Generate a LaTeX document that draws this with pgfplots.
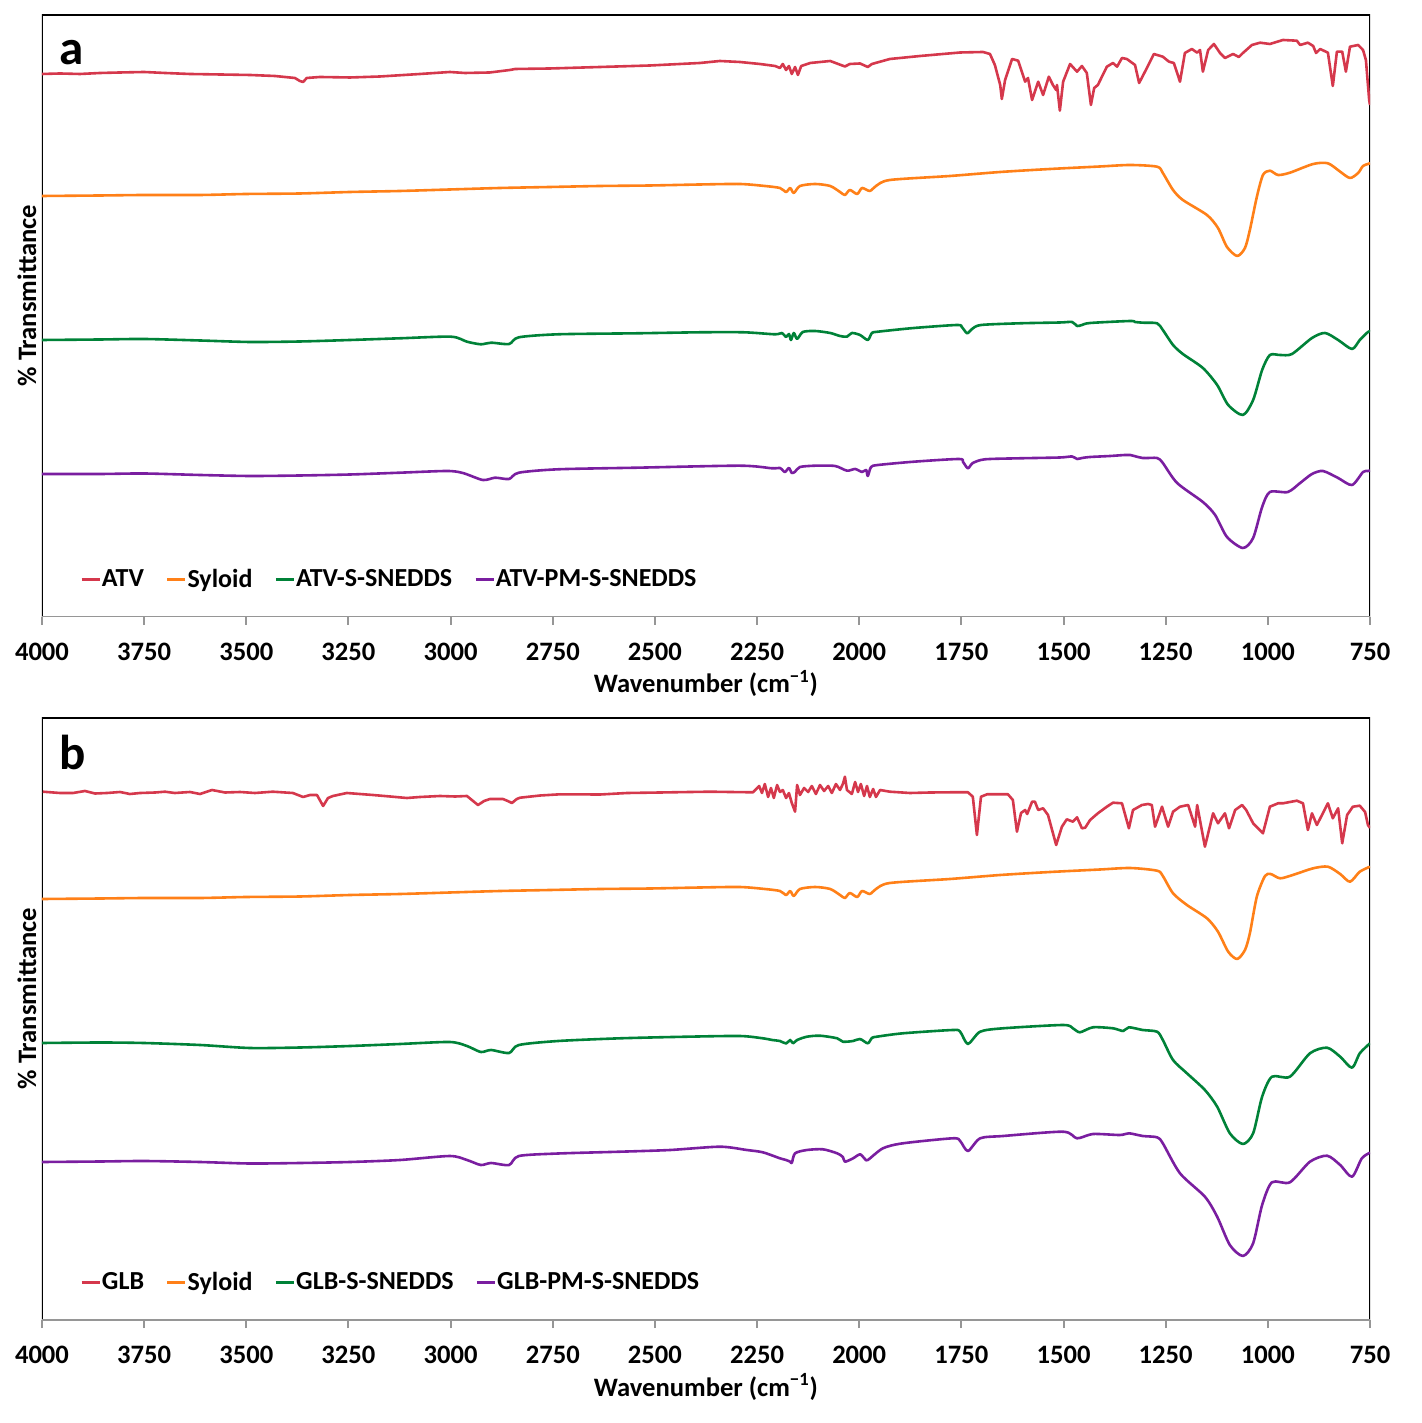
\documentclass[border=0pt]{standalone}
\usepackage{fontspec}
\setmainfont{Carlito}
\usepackage{pgfplots}
\pgfplotsset{compat=1.18}
\definecolor{cred}{RGB}{213,56,76}
\definecolor{corange}{RGB}{255,128,24}
\definecolor{cgreen}{RGB}{0,130,56}
\definecolor{cpurple}{RGB}{122,30,160}
\definecolor{axgray}{RGB}{150,150,150}
\pgfplotsset{
  ftir/.style={
    scale only axis, width=664pt, height=301pt, anchor=south west,
    x dir=reverse, xmin=750, xmax=4000, y dir=reverse,
    xtick={4000,3750,3500,3250,3000,2750,2500,2250,2000,1750,1500,1250,1000,750},
    ytick=\empty, tick pos=lower, tick align=outside,
    major tick length=4pt,
    every tick/.style={axgray, line width=1pt},
    axis line style={draw=none},
    /pgf/number format/assume math mode=true,
    /pgf/number format/1000 sep={},
    xticklabel style={font=\bfseries\fontsize{13.3}{15}\selectfont, yshift=-5.5pt},
    xlabel={Wavenumber (cm\textsuperscript{−1})},
    ylabel={\% Transmittance},
    label style={font=\bfseries\fontsize{13.3}{15}\selectfont},
    xlabel style={at={(axis description cs:0.5,0)}, anchor=base, yshift=-38pt},
    ylabel style={at={(axis description cs:-0.0113,0.534)}, anchor=center, rotate=0},
    legend columns=4,
    legend cell align=left,
    legend style={at={(axis description cs:0.0286,0.062)}, anchor=west, draw=none, fill=none, inner sep=0pt,
      font=\bfseries\fontsize{13}{14}\selectfont,
      nodes={inner xsep=0.5pt, inner ysep=1pt},
      /tikz/every even column/.append style={column sep=10.5pt}},
    legend image code/.code={\draw[#1] (0pt,0pt) -- (9pt,0pt);},
    every axis plot/.append style={line width=1.3pt, line join=round},
    clip=true,
  }
}
\begin{document}
\begin{tikzpicture}
\useasboundingbox (0,0) rectangle (710.5pt,711.5pt);
% ---------------- panel a ----------------
\begin{axis}[ftir, at={(21pt,403pt)}, ymin=15, ymax=617]
\draw[black, line width=1pt] (rel axis cs:0,0) -- (rel axis cs:0,1) -- (rel axis cs:1,1) -- (rel axis cs:1,0);
\draw[axgray, line width=1pt] (rel axis cs:0,0) -- (rel axis cs:1,0);
\addplot[cred] table {
4000 74
3956 73.5
3907 74
3858 73
3809 72.5
3750 72
3699 73
3638 74
3564 74.5
3491 75
3430 76
3381 78
3369 81
3361 82
3352 78
3320 77
3246 77.5
3173 76.5
3075 74
3002 72
2965 73
2904 72.5
2855 70
2842 69
2757 68.5
2634 67
2512 65.5
2390 63
2341 61
2292 62
2243 64
2206 66
2194 68
2187 64
2179 70
2172 66
2165 74
2157 67
2150 75
2142 66
2120 63
2071 61
2035 66.5
2023 64
1998 63.5
1979 67
1969 64
1925 59
1851 56
1753 52.5
1697 52
1680 54
1668 65
1655 85
1651 99
1643 80
1626 59
1611 60.7
1594 81.7
1587 78
1577 100
1562 81.7
1550 95
1536 76.7
1526 85
1518 90
1516 85
1509 110.7
1501 81.7
1484 64
1467 71.7
1455 66
1443 73
1433 105
1425 88
1416 85
1394 66.7
1379 63
1369 66.7
1357 58
1345 59
1325 65
1315 83
1296 68
1279 54
1257 56.7
1242 61.7
1230 63
1215 81.7
1203 53
1186 49
1173 52.7
1166 50
1159 71.7
1146 50
1132 44
1117 53
1105 58
1085 54
1071 57
1061 53
1039 45
1019 42.7
995 44
963 40
929 40.7
921 45
902 42.7
889 46
882 53
872 49
853 52.7
841 86
831 51.7
818 51.7
809 71.7
799 46.7
779 45
767 50
760 60
752 100
750 105
};
\addlegendentry{ATV}
\addplot[corange, smooth, tension=0.45] table {
4000 196
3858 195.5
3750 195
3613 195
3501 194
3369 193.5
3246 192
3124 191
3002 189.5
2879 188
2757 187
2634 186
2512 185.5
2390 184.5
2292 184
2231 186
2194 188
2179 192
2169 188
2160 193
2145 186
2108 184
2071 186
2047 192
2035 195
2023 190
2005 194
1993 188
1974 191
1959 186
1925 180
1778 176
1655 172
1533 169
1411 166.5
1337 165
1271 166.7
1257 173
1232 190
1208 200
1149 215
1122 228
1100 247
1075 256
1056 248
1044 230
1027 197
1012 175
995 170.7
975 175
946 172.7
889 164
853 163.3
823 171.7
799 178
779 173
767 166
750 163.3
};
\addlegendentry{Syloid}
\addplot[cgreen, smooth, tension=0.45] table {
4000 340
3858 339.5
3750 339
3613 340.5
3491 342
3369 341.5
3246 340
3124 338.3
2999 336.7
2960 341.7
2926 344.3
2901 342.7
2857 344
2833 337.3
2737 334.3
2544 333.3
2390 332.3
2282 332.3
2206 334.3
2189 333
2179 337
2172 334
2167 340
2160 333
2152 339
2138 332
2108 331
2071 333
2047 336
2030 336.7
2018 333
1998 335
1979 340
1969 333
1954 331.7
1866 328
1761 325
1749 327
1736 333.3
1724 329
1702 325
1607 323.3
1509 322.5
1479 322
1467 326
1455 325
1435 323
1337 321
1325 322
1306 322.7
1271 323.3
1257 330
1232 345
1208 354
1159 368
1124 385
1097 405
1061 415
1036 400
1014 370
995 355
970 355
941 354
892 338
860 333
828 340
794 349
775 340
755 332
750 331.5
};
\addlegendentry{ATV-S-SNEDDS}
\addplot[cpurple, smooth, tension=0.45] table {
4000 474
3858 474
3750 473.5
3613 475
3491 476
3369 475.5
3246 474.5
3124 472.7
3009 471
2970 473
2921 480
2891 477.7
2857 479
2833 472.7
2737 469.3
2544 467.7
2292 465.7
2213 468.3
2194 468
2182 472
2172 468
2165 473
2157 471.7
2145 467
2108 465.7
2059 466
2030 470.7
2010 469
1993 472
1983 470
1979 476
1971 467
1954 465
1866 461.7
1756 459
1746 462
1734 468.3
1722 463
1692 459.3
1607 458.3
1509 457.5
1479 456.5
1467 459
1455 458
1435 457
1386 456
1350 455
1337 455
1306 458
1271 458
1257 463
1222 483
1159 502
1129 515
1100 537
1061 548
1036 538
1014 507
995 492
951 492
921 483
892 474
865 471
828 478
794 485
767 472
755 471
750 470.5
};
\addlegendentry{ATV-PM-S-SNEDDS}
\end{axis}
% ---------------- panel b ----------------
\begin{axis}[ftir, at={(21pt,51.5pt)}, ymin=718, ymax=1320]
\draw[black, line width=1pt] (rel axis cs:0,0) -- (rel axis cs:0,1) -- (rel axis cs:1,1) -- (rel axis cs:1,0);
\draw[axgray, line width=1pt] (rel axis cs:0,0) -- (rel axis cs:1,0);
\addplot[cred] table {
3998 791.7
3956 793
3924 793
3895 791
3870 793.5
3841 793
3809 792
3785 794
3760 793
3723 792.5
3699 791.7
3675 793
3638 792
3613 794
3584 790
3552 792.5
3515 792
3479 793
3435 791.7
3386 793
3361 797
3344 795
3327 795
3312 806
3300 798
3288 796
3254 793
3222 794
3190 795
3148 796.5
3107 798
3075 797
3026 796
2989 796.5
2960 796
2945 801
2933 805
2918 801
2904 799
2872 799
2860 801
2850 803
2838 799
2830 797.7
2781 795.5
2732 794.3
2634 794.5
2568 793
2488 792.5
2414 792
2365 791.7
2316 792
2260 792.3
2245 786
2238 793
2231 784
2223 797
2216 788
2209 798
2201 785
2194 792
2187 790
2179 798
2172 793
2165 803
2157 811.7
2152 785
2145 795
2135 788
2125 792
2116 786
2106 794
2096 785
2086 791
2076 786
2067 793
2057 784
2047 790
2040 784
2035 776.7
2030 790
2018 794
2010 782
2003 792
1996 784
1988 796
1981 786
1974 797
1966 789
1959 797
1949 790
1925 791.7
1876 793
1827 792.5
1778 792.3
1734 792.3
1722 796.7
1712 835
1702 796.7
1687 794.3
1636 794.3
1624 800
1614 831.7
1604 813
1594 810
1589 814
1577 801.7
1570 801.7
1562 810
1550 808.3
1538 815
1518 845
1504 826.7
1492 819.3
1477 821.7
1467 817.3
1455 828.3
1447 827.7
1435 820
1416 813.3
1394 806.7
1379 802.7
1357 803.3
1340 828.3
1330 810
1308 805
1293 804
1284 805
1276 826.7
1259 806.7
1244 826.7
1232 811.7
1215 806.7
1195 805
1178 826.7
1173 805
1154 846.7
1134 813.3
1122 823.3
1105 813.3
1095 828.3
1080 810
1063 805
1053 810
1036 823.3
1012 833.3
995 806.7
975 803.3
963 803.3
929 800.7
914 803.3
902 830
892 813.3
880 825
853 803.3
841 818.3
828 808.3
818 843.3
806 815
792 806.7
775 805.7
762 812
755 825
750 828
};
\addlegendentry{GLB}
\addplot[corange, smooth, tension=0.45] table {
4000 899
3858 898.5
3750 898
3613 898
3501 897
3369 896.5
3246 895
3124 894
3002 892.5
2879 891
2757 890
2634 889
2512 888.5
2390 887.5
2292 887
2231 889
2194 891
2179 895
2169 891
2160 896
2145 889
2108 887
2071 889
2047 895
2035 898
2023 893
2005 897
1993 891
1974 894
1959 889
1925 883
1778 879
1655 875
1533 872
1411 869.5
1337 868
1271 870.7
1257 876
1232 893.3
1198 905
1149 918.3
1122 931.7
1097 951.7
1075 959
1056 950
1044 933.3
1027 896.7
1007 876
993 874
970 878.3
939 875
889 868.3
853 866.7
823 874
799 881.7
775 871.7
750 866.7
};
\addlegendentry{Syloid}
\addplot[cgreen, smooth, tension=0.45] table {
4000 1043
3858 1042.5
3750 1043
3613 1045
3491 1048
3369 1047.5
3246 1046
3124 1044
3002 1042
2960 1046
2926 1052
2901 1050
2857 1053
2833 1045
2737 1041
2585 1038.3
2421 1036.7
2292 1036
2236 1038.3
2213 1040
2194 1041
2179 1043.5
2169 1040
2162 1043.3
2152 1040
2128 1036.7
2096 1035.7
2054 1038.3
2040 1041.7
2015 1041
1998 1039
1979 1043.3
1969 1038
1957 1036.7
1893 1033.3
1771 1030
1753 1031.7
1734 1044
1704 1031.7
1648 1028.3
1501 1025
1477 1028.3
1460 1032.3
1428 1027.3
1379 1028.3
1354 1031
1340 1027.3
1306 1030
1271 1031.7
1257 1040
1232 1060
1198 1073.3
1154 1090
1124 1106.7
1093 1133.3
1061 1144
1036 1133.3
1014 1096.7
990 1076.7
946 1076.7
897 1053.3
855 1047.7
823 1056.7
794 1067.7
775 1053.3
750 1043.3
};
\addlegendentry{GLB-S-SNEDDS}
\addplot[cpurple, smooth, tension=0.45] table {
4000 1162
3858 1161.5
3750 1161
3613 1162
3491 1163.5
3369 1163
3246 1162
3124 1160
3002 1156
2960 1160
2926 1165
2901 1163
2857 1165
2833 1156
2737 1153.5
2585 1151.7
2463 1150
2341 1146.7
2275 1150
2236 1152.3
2194 1158.3
2179 1160
2169 1161.7
2165 1163
2157 1153.3
2128 1150
2089 1149.3
2054 1153.3
2040 1157
2035 1161.7
2015 1158.3
1998 1154.3
1986 1159
1979 1160
1942 1148.3
1893 1143.3
1771 1138.3
1753 1141
1734 1151
1704 1138.3
1648 1136
1501 1131.7
1467 1138.3
1428 1134
1362 1135
1340 1133.3
1306 1136
1271 1137.3
1257 1143.3
1215 1173.3
1154 1196.7
1124 1216.7
1093 1245
1061 1256
1036 1243.3
1014 1205
990 1182.3
946 1182.3
897 1161.7
855 1155.7
823 1165
794 1176.7
770 1158.3
750 1152.7
};
\addlegendentry{GLB-PM-S-SNEDDS}
\end{axis}
\node[anchor=base west, font=\bfseries\fontsize{24.5}{25}\selectfont, inner sep=0pt] at (29.5pt,679pt) {a};
\node[anchor=base west, font=\bfseries\fontsize{24.5}{25}\selectfont, inner sep=0pt] at (29.5pt,326.5pt) {b};
\end{tikzpicture}
\end{document}
